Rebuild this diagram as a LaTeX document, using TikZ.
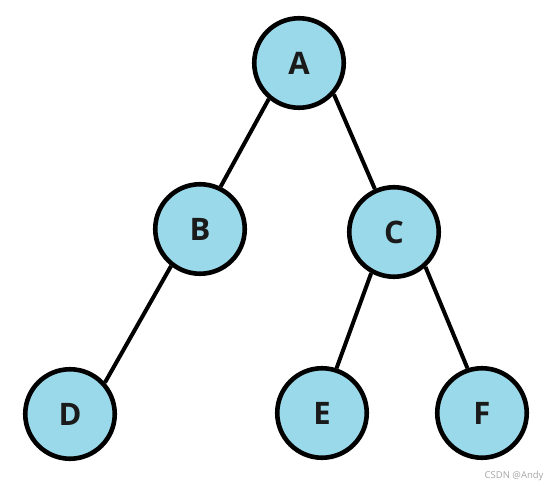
\documentclass[tikz,border=0pt]{standalone}
\usepackage{fontspec}
\setmainfont{Open Sans}
\definecolor{nodefill}{HTML}{9AD9EA}
\definecolor{txt}{HTML}{1A1A1A}
\begin{document}
\begin{tikzpicture}[x=1pt,y=-1pt,
  tnode/.style={circle,draw=black,line width=4.6pt,fill=nodefill,minimum size=89.5pt,inner sep=0pt,
    font=\fontsize{31}{34}\selectfont\bfseries,text=txt},
  edge/.style={line width=4pt,draw=black}]
\useasboundingbox (0,0) rectangle (550,486);
\node[tnode] (A) at (299,63) {A};
\node[tnode] (B) at (200,229) {B};
\node[tnode] (C) at (394,232) {C};
\node[tnode] (D) at (70,414) {D};
\node[tnode] (E) at (322,413) {E};
\node[tnode] (F) at (482,413) {F};
\draw[edge] (A.230) -- (B.64);
\draw[edge] (A.318) -- (C.114);
\draw[edge] (B.232) -- (D.42);
\draw[edge] (C.241) -- (E.72);
\draw[edge] (C.312) -- (F.108);
\node[text=black!35,font=\fontsize{9.5}{11}\selectfont,anchor=east] (wm) at (547,476) {CSDN @Andy};
\end{tikzpicture}
\end{document}
